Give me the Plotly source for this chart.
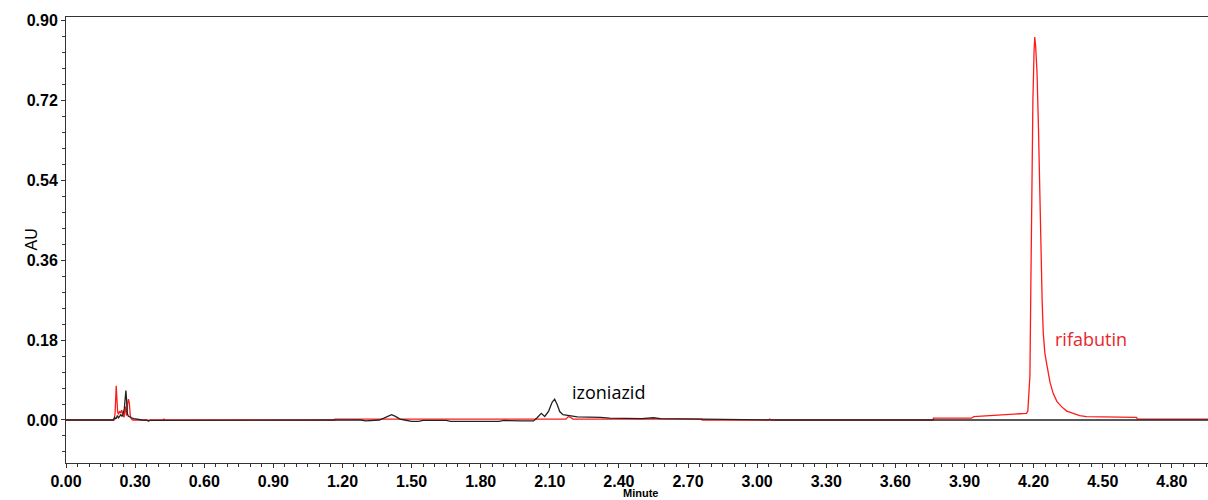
import plotly.graph_objects as go

# Black trace (izoniazid channel): time (min), absorbance (AU)
black_t = [0.00, 0.205, 0.211, 0.215, 0.219, 0.223, 0.228, 0.233, 0.238, 0.243, 0.248,
           0.253, 0.257, 0.260, 0.263, 0.266, 0.270, 0.276, 0.283, 0.295, 0.310, 0.330,
           0.36, 0.45, 0.50, 1.28, 1.30, 1.32, 1.36, 1.38, 1.40, 1.413, 1.43, 1.45, 1.47,
           1.50, 1.53, 1.55, 1.65, 1.67, 1.88, 1.90, 1.98, 2.03, 2.045, 2.063, 2.078,
           2.095, 2.110, 2.121, 2.132, 2.143, 2.157, 2.186, 2.22, 2.32, 2.36, 2.50, 2.55,
           2.58, 2.75, 3.10, 4.957]
black_v = [0.0, 0.0, 0.006, 0.003, 0.004, 0.010, 0.005, 0.009, 0.012, 0.008, 0.014,
           0.025, 0.055, 0.066, 0.045, 0.015, 0.009, 0.007, 0.005, 0.003, 0.001, 0.0,
           -0.001, -0.001, 0.0, 0.0, -0.002, -0.001, 0.0, 0.004, 0.010, 0.012, 0.008, 0.002, 0.0,
           -0.003, -0.003, -0.001, -0.001, -0.003, -0.003, -0.001, -0.002, -0.002, 0.005, 0.015, 0.008,
           0.020, 0.040, 0.047, 0.035, 0.019, 0.012, 0.009, 0.007, 0.006, 0.004, 0.003, 0.005,
           0.003, 0.002, 0.0, 0.0]

# Red trace (rifabutin channel)
red_t = [0.00, 0.209, 0.213, 0.216, 0.218, 0.221, 0.224, 0.228, 0.232, 0.237, 0.242,
         0.247, 0.252, 0.258, 0.263, 0.267, 0.271, 0.275, 0.279, 0.284, 0.29, 0.35,
         0.358, 0.365, 0.42, 0.425, 0.43, 1.166, 1.167, 2.17, 2.18, 2.19, 2.20, 2.76,
         2.761, 3.05, 3.055, 3.06, 3.764, 3.765, 3.93, 3.94, 4.06, 4.15, 4.169, 4.175,
         4.184, 4.188, 4.192, 4.197, 4.202, 4.205, 4.209, 4.215, 4.221, 4.227, 4.232,
         4.237, 4.242, 4.249, 4.259, 4.271, 4.285, 4.301, 4.321, 4.344, 4.372, 4.40,
         4.43, 4.647, 4.650, 4.957]
red_v = [0.0, 0.0, 0.015, 0.060, 0.077, 0.048, 0.018, 0.012, 0.020, 0.016, 0.022,
         0.012, 0.006, 0.030, 0.010, 0.035, 0.047, 0.038, 0.010, 0.002, 0.0, 0.0,
         -0.003, 0.0, 0.0, 0.002, 0.0, 0.0, 0.002, 0.002, 0.0075, 0.006, 0.002, 0.002,
         0.0, 0.0, 0.002, 0.0, 0.0, 0.004, 0.004, 0.0075, 0.011, 0.013, 0.015, 0.020,
         0.10, 0.30, 0.55, 0.72, 0.83, 0.862, 0.84, 0.78, 0.66, 0.48, 0.38,
         0.27, 0.195, 0.15, 0.12, 0.085, 0.06, 0.042, 0.03, 0.02, 0.015, 0.010,
         0.0075, 0.006, 0.002, 0.002]

x_range = [0.0, 4.957]
y_range = [-0.0968, 0.907]
x_ticks = [0.00, 0.30, 0.60, 0.90, 1.20, 1.50, 1.80, 2.10, 2.40, 2.70, 3.00, 3.30, 3.60, 3.90, 4.20, 4.50, 4.80]
y_ticks = [0.00, 0.18, 0.36, 0.54, 0.72, 0.90]

fig = go.Figure()
fig.add_trace(go.Scatter(x=red_t, y=red_v, mode="lines",
                         line=dict(color="#FF1A1A", width=1.3), showlegend=False))
fig.add_trace(go.Scatter(x=black_t, y=black_v, mode="lines",
                         line=dict(color="#222222", width=1.3), showlegend=False))

tickfont = dict(family="Liberation Sans, Arial", size=16, color="black", weight="bold")

fig.update_layout(
    width=1208, height=500,
    margin=dict(l=66, r=0, t=17, b=37),
    paper_bgcolor="white", plot_bgcolor="white",
    xaxis=dict(range=x_range, tickvals=x_ticks, ticktext=[f"{v:.2f}" for v in x_ticks],
               automargin=False,
               showgrid=False, zeroline=False, showline=True, linecolor="#333333",
               linewidth=1, mirror=True, ticks="outside", ticklen=4, tickcolor="#333333",
               tickfont=tickfont,
               minor=dict(dtick=0.05, tick0=0, ticks="outside", ticklen=3, tickcolor="#333333")),
    yaxis=dict(range=y_range, tickvals=y_ticks, ticktext=[f"{v:.2f}" for v in y_ticks],
               automargin=False,
               showgrid=False, zeroline=False, showline=True, linecolor="#333333",
               linewidth=1, ticks="outside", ticklen=4, tickcolor="#333333",
               tickfont=tickfont,
               minor=dict(dtick=0.036, tick0=0, ticks="outside", ticklen=3, tickcolor="#333333")),
    annotations=[
        dict(text="izoniazid", x=2.356, y=0.063, xref="x", yref="y", showarrow=False,
             font=dict(family="Open Sans", size=18, color="black")),
        dict(text="rifabutin", x=4.451, y=0.182, xref="x", yref="y", showarrow=False,
             font=dict(family="Open Sans", size=18, color="#E8262B")),
        dict(text="AU", x=0, y=0.5, xref="paper", yref="paper", xshift=-46, textangle=-90,
             showarrow=False, font=dict(family="Liberation Sans, Arial", size=16, color="black")),
        dict(text="Minute", x=0.503, y=0, xref="paper", yref="paper", yshift=-23,
             yanchor="top", showarrow=False, borderpad=0,
             font=dict(family="Liberation Sans, Arial", size=11, color="black", weight="bold")),
    ],
)

fig.write_html("out.html", config={"displayModeBar": False},
               post_script="document.body.style.margin='0';document.body.style.overflow='hidden';")
